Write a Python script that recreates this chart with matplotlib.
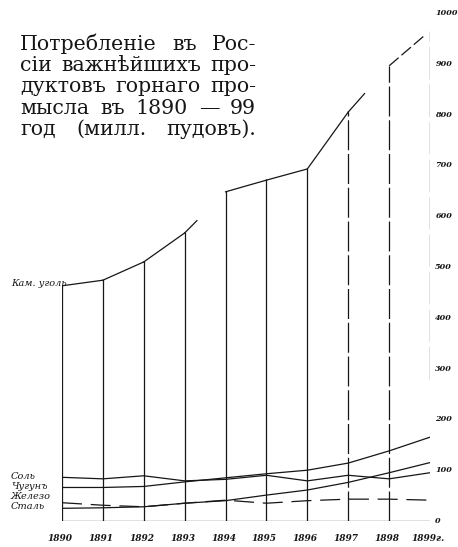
import numpy as np
import matplotlib.pyplot as plt

# данные (милл. пудов)
years = np.arange(1890, 1900)
year_labels = ['1890', '1891', '1892', '1893', '1894', '1895', '1896', '1897', '1898', '1899г.']
coal = [463, 474, 510, 567, 648, 671, 693, 805, 896, 965]
salt = [86, 83, 89, 79, 82, 90, 79, 90, 83, 95]
pig_iron = [66, 66, 68, 77, 85, 93, 100, 114, 138, 165]
iron = [36, 31, 28, 35, 41, 35, 40, 43, 43, 41]
steel = [25, 26, 28, 35, 40, 51, 61, 76, 95, 115]
y_ticks = [0, 100, 200, 300, 400, 500, 600, 700, 800, 900, 1000]
coal_name = 'Кам. уголь'
series_names = ['Соль', 'Чугунъ', 'Железо', 'Сталь']
title_lines = ['Потребленіе въ Рос-',
               'сіи важнѣйшихъ про-',
               'дуктовъ горнаго про-',
               'мысла въ 1890 — 99',
               'год (милл. пудовъ).']

W, H = 458, 547
ink = '#161616'
fig = plt.figure(figsize=(W / 100, H / 100), dpi=100)
fig.patch.set_facecolor('white')
ax = fig.add_axes([62 / W, 1 - 521 / H, 368 / W, 508 / H])
ax.set_xlim(1890, 1899)
ax.set_ylim(0, 1000)
ax.axis('off')

# вертикальные линии по годам
for yr, c in zip(years, coal):
    if yr < 1897:
        ax.plot([yr, yr], [0, c], color=ink, lw=0.9)
    elif yr < 1899:
        ax.plot([yr, yr], [0, c], color=ink, lw=0.9, ls=(0, (24, 3)))
    else:
        ax.plot([yr, yr], [280, c], color=ink, lw=0.9, ls=(0, (26, 4)))

# основание
ax.plot([years[0], years[-1]], [0, 0], color=ink, lw=0.9)

# каменный уголь, с разрывами как на оригинале
frac = [1, 1, 1, 0.3, 1, 1, 1, 0.4, 0.85]
for i in range(len(years) - 1):
    x0, x1 = years[i], years[i + 1]
    y0, y1 = coal[i], coal[i + 1]
    f = frac[i]
    ls = '-' if i < len(years) - 2 else (0, (10, 3))
    ax.plot([x0, x0 + f * (x1 - x0)], [y0, y0 + f * (y1 - y0)], color=ink, lw=0.9, ls=ls)

# прочие продукты
ax.plot(years, salt, color=ink, lw=0.9)
ax.plot(years, pig_iron, color=ink, lw=0.9)
ax.plot(years, iron, color=ink, lw=0.9, ls=(0, (16, 7)))
ax.plot(years, steel, color=ink, lw=0.9)

hand = dict(family='DejaVu Serif', style='italic', color=ink)

ax.text(1888.75, coal[0] + 5, coal_name, fontsize=7, va='center', ha='left', clip_on=False, **hand)
for name, ypos in zip(series_names, [88, 68, 48, 28]):
    ax.text(1888.75, ypos, name, fontsize=7, va='center', ha='left', clip_on=False, **hand)

for yr, lab in zip(years, year_labels):
    ax.text(yr - 0.05, -35, lab, fontsize=6.5, weight='bold', ha='center', va='center',
            clip_on=False, **hand)

for v in y_ticks:
    ax.text(1899.13, v, str(v), fontsize=5.8, weight='bold', ha='left', va='center',
            clip_on=False, **hand)

# заголовок, выровненный по ширине
r = fig.canvas.get_renderer()
x_left, x_right = 20, 256
for k, line in enumerate(title_lines):
    yb = 1 - (50 + 21.2 * k) / H
    words = line.split()
    texts = [fig.text(0, yb, w, fontsize=14.8, family='DejaVu Serif', va='baseline',
                      ha='left', color=ink) for w in words]
    widths = [t.get_window_extent(r).width for t in texts]
    gap = (x_right - x_left - sum(widths)) / max(len(words) - 1, 1)
    x = x_left
    for t, w in zip(texts, widths):
        t.set_x(x / W)
        x += w + gap

fig.savefig('out.png', dpi=100, facecolor='white')
